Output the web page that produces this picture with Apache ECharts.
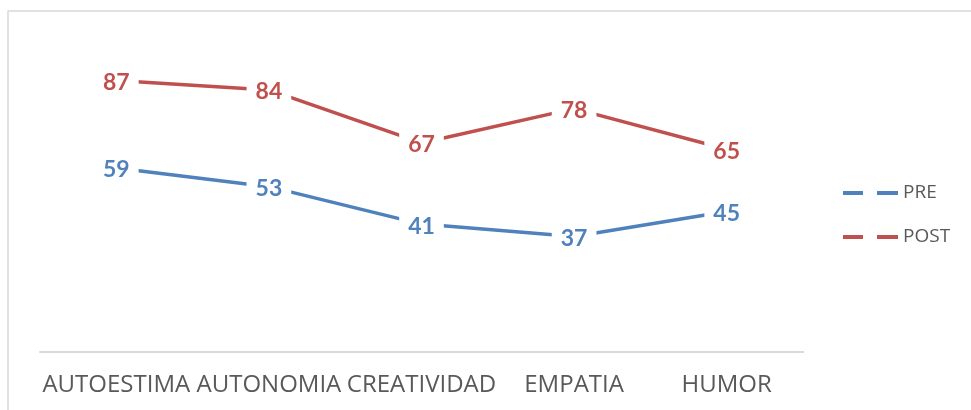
<!DOCTYPE html>
<html>
<head>
<meta charset="utf-8">
<script src="https://cdn.jsdelivr.net/npm/echarts@6/dist/echarts.min.js"></script>
<style>
  html, body { margin: 0; padding: 0; background: #fff; }
  #chart { width: 971px; height: 410px; }
</style>
</head>
<body>
<div id="chart"></div>
<script>
var categories = ['AUTOESTIMA', 'AUTONOMIA', 'CREATIVIDAD', 'EMPATIA', 'HUMOR'];
var preValues = [59, 53, 41, 37, 45];
var postValues = [87, 84, 67, 78, 65];

var dashIcon = 'path://M0,0H20V4H0Z M34,0H55V4H34Z';

var mycharts = echarts.init(document.getElementById('chart'));
var labelStyle = {
  show: true,
  position: 'inside',
  offset: [0, 2],
  fontFamily: 'Lato',
  fontWeight: 'bold',
  fontSize: 23,
  backgroundColor: '#ffffff',
  padding: [3, 9]
};
var legendText = { fontFamily: 'Open Sans', fontSize: 19, color: '#595959', lineHeight: 20 };
var option = {
  backgroundColor: '#ffffff',
  animation: false,
  graphic: [{
    type: 'rect',
    shape: { x: 8, y: 11, width: 1000, height: 500 },
    style: { fill: 'none', stroke: '#d9d9d9', lineWidth: 1.5 },
    silent: true
  }],
  legend: [{
    orient: 'vertical',
    left: 843,
    top: 183,
    padding: 0,
    icon: dashIcon,
    itemWidth: 55,
    itemHeight: 4,
    textStyle: legendText,
    data: [{ name: 'PRE', itemStyle: { color: '#4f81bd' } }]
  }, {
    orient: 'vertical',
    left: 843,
    top: 227,
    padding: 0,
    icon: dashIcon,
    itemWidth: 55,
    itemHeight: 4,
    textStyle: legendText,
    data: [{ name: 'POST', itemStyle: { color: '#c0504d' } }]
  }],
  grid: {
    left: 40,
    right: 168,
    top: 40,
    bottom: 58
  },
  xAxis: {
    type: 'category',
    boundaryGap: true,
    data: categories,
    axisLine: { lineStyle: { color: '#d9d9d9', width: 2 } },
    axisTick: { show: false },
    axisLabel: {
      interval: 0,
      margin: 21,
      color: '#595959',
      fontFamily: 'Open Sans',
      fontSize: 24
    }
  },
  yAxis: {
    type: 'value',
    min: 0,
    max: 100,
    show: false,
    splitLine: { show: false }
  },
  series: [{
    name: 'PRE',
    type: 'line',
    symbol: 'circle',
    symbolSize: 1,
    itemStyle: { color: '#ffffff' },
    lineStyle: { width: 3.5, color: '#4f81bd' },
    label: Object.assign({ color: '#4f81bd' }, labelStyle),
    data: preValues
  }, {
    name: 'POST',
    type: 'line',
    symbol: 'circle',
    symbolSize: 1,
    itemStyle: { color: '#ffffff' },
    lineStyle: { width: 3.5, color: '#c0504d' },
    label: Object.assign({ color: '#c0504d' }, labelStyle),
    data: postValues
  }]
};
mycharts.setOption(option);
</script>
</body>
</html>
